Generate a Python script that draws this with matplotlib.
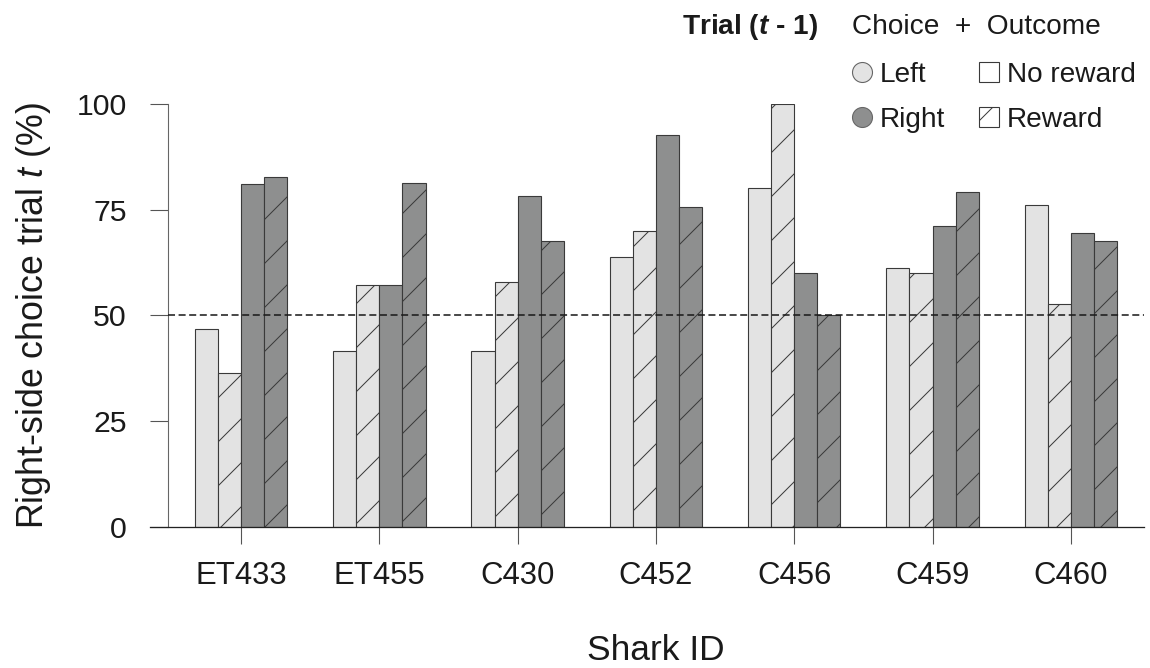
import matplotlib
matplotlib.use('Agg')
import matplotlib.pyplot as plt
import numpy as np
from matplotlib.lines import Line2D
from matplotlib.patches import Patch

# values (% right-side choices on trial t)
sharks = ['ET433', 'ET455', 'C430', 'C452', 'C456', 'C459', 'C460']
left_no_reward = [46.8, 41.7, 41.7, 63.7, 80.0, 61.1, 76.0]
left_reward = [36.4, 57.2, 58.0, 70.0, 100.0, 60.0, 52.7]
right_no_reward = [81.1, 57.2, 78.1, 92.7, 60.0, 71.1, 69.4]
right_reward = [82.8, 81.3, 67.7, 75.7, 50.2, 79.1, 67.5]
chance = 50
yticks = [0, 25, 50, 75, 100]

light = '#e3e3e3'
dark = '#8e8f8f'
edge = '#3a3a3a'

plt.rcParams['font.family'] = ['Liberation Sans', 'DejaVu Sans']
plt.rcParams['mathtext.fontset'] = 'custom'
plt.rcParams['mathtext.rm'] = 'Liberation Sans'
plt.rcParams['mathtext.it'] = 'Liberation Sans:italic'
plt.rcParams['mathtext.bf'] = 'Liberation Sans:bold'
plt.rcParams['mathtext.bfit'] = 'Liberation Sans:italic:bold'
plt.rcParams['hatch.linewidth'] = 0.55
plt.rcParams['hatch.color'] = edge

DPI = 132
W, H = 1150, 668
fig = plt.figure(figsize=(W / DPI, H / DPI), dpi=DPI)
ax_l, ax_r, ax_b, ax_t = 150, 1144, 527.3, 103.7
ax = fig.add_axes([ax_l / W, 1 - ax_b / H, (ax_r - ax_l) / W, (ax_b - ax_t) / H])

x = np.arange(len(sharks))
w = 0.167
series = [
    (left_no_reward, light, None),
    (left_reward, light, '/'),
    (right_no_reward, dark, None),
    (right_reward, dark, '/'),
]
for k, (vals, col, hatch) in enumerate(series):
    ax.bar(x + (k - 1.5) * w, vals, w, color=col, edgecolor=edge,
           linewidth=0.6, hatch=hatch, zorder=2)

spine_off = 18.3 / (ax_r - ax_l)
ax.axhline(chance, xmin=spine_off, xmax=1, color='#1a1a1a', lw=0.85,
           dashes=(4.5, 2.3), zorder=3)

xmin, xmax = -0.658, 6.529
ax.set_xlim(xmin, xmax)
ax.set_ylim(0, 100)
ax.spines['top'].set_visible(False)
ax.spines['right'].set_visible(False)
ax.spines['left'].set_position(('axes', spine_off))
ax.spines['left'].set_bounds(0, 100)
ax.spines['left'].set_color('#666666')
ax.spines['left'].set_linewidth(0.6)
ax.spines['bottom'].set_color('#222222')
ax.spines['bottom'].set_linewidth(0.7)

ax.set_yticks(yticks)
ax.set_xticks(x)
ax.set_xticklabels(sharks)
ax.tick_params(axis='y', length=10, width=0.6, color='#555555', pad=12.7,
               labelsize=16.5, labelcolor='#1a1a1a')
ax.tick_params(axis='x', length=9.3, width=0.6, color='#555555', pad=9,
               labelsize=17, labelcolor='#1a1a1a')

ax.set_ylabel('Right-side choice trial $t$ (%)', fontsize=19.5,
              va='center', ha='center', color='#1a1a1a')
ax.yaxis.set_label_coords((34 - ax_l) / (ax_r - ax_l), 0.5)
ax.set_xlabel('Shark ID', fontsize=19.3, va='center', color='#1a1a1a')
ax.xaxis.set_label_coords((3 - xmin) / (xmax - xmin), -(650 - ax_b) / (ax_b - ax_t))

# legend
handles = [
    Line2D([], [], marker='o', ls='', markersize=10.9, markerfacecolor=light,
           markeredgecolor='#666666', markeredgewidth=0.6),
    Line2D([], [], marker='o', ls='', markersize=10.9, markerfacecolor=dark,
           markeredgecolor='#666666', markeredgewidth=0.6),
    Patch(facecolor='white', edgecolor=edge, linewidth=0.6),
    Patch(facecolor='white', edgecolor=edge, linewidth=0.6, hatch='/'),
]
labels = ['Left', 'Right', 'No reward', 'Reward']
ax.legend(handles, labels, ncol=2, loc='upper left',
          bbox_to_anchor=(851.7 / W, 1 - 61.5 / H), bbox_transform=fig.transFigure,
          frameon=False, fontsize=15.3, handlelength=0.71, handleheight=0.71,
          handletextpad=0.3, columnspacing=1.19, labelspacing=0.68,
          borderpad=0, borderaxespad=0, labelcolor='#1a1a1a')

fig.text(682 / W, 1 - 27 / H, r'Trial ($\mathbfit{t}$ - 1)', fontsize=15.3,
         fontweight='bold', va='center', ha='left', color='#1a1a1a')
fig.text(852 / W, 1 - 27 / H, 'Choice  +  Outcome', fontsize=15.3,
         va='center', ha='left', color='#1a1a1a')

fig.savefig('out.png', dpi=DPI)
